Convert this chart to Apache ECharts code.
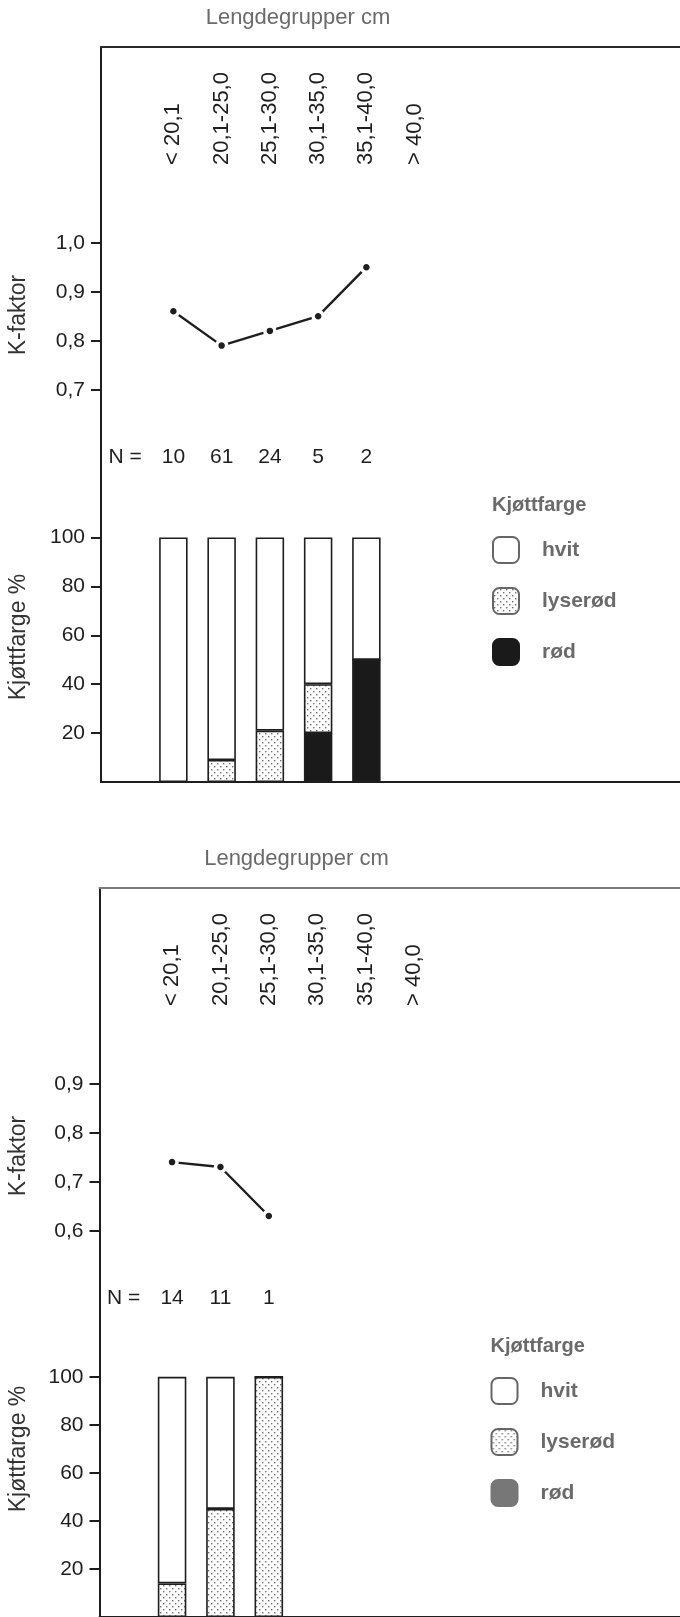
<!DOCTYPE html>
<html>
<head>
<meta charset="utf-8">
<script src="https://cdn.jsdelivr.net/npm/echarts@6/dist/echarts.min.js"></script>
<style>
  html, body { margin: 0; padding: 0; background: #fff; }
  #chart { width: 680px; height: 1617px; }
</style>
</head>
<body>
<div id="chart"></div>
<script>
// Length groups (cm) shared by both samples
const lengthGroups = ['< 20,1', '20,1-25,0', '25,1-30,0', '30,1-35,0', '35,1-40,0', '> 40,0'];

// Sample A (upper panel)
const kFactorA = [0.86, 0.79, 0.82, 0.85, 0.95];
const countA = [10, 61, 24, 5, 2];
const hvitA = [100, 91, 79, 60, 50];
const lyserodA = [0, 9, 21, 20, 0];
const rodA = [0, 0, 0, 20, 50];

// Sample B (lower panel)
const kFactorB = [0.74, 0.73, 0.63];
const countB = [14, 11, 1];
const hvitB = [86, 55, 0];
const lyserodB = [14, 45, 100];
const rodB = [0, 0, 0];

// Axis tick labels
const kTicksA = [0.7, 0.8, 0.9, 1.0];
const kTicksB = [0.6, 0.7, 0.8, 0.9];
const pctTicks = [20, 40, 60, 80, 100];

const FONT = '"Liberation Sans", Arial, Helvetica, sans-serif';
const INK = '#1e1e1e';
const GREY = '#6a6a6a';
const SLOTS = 12;                 // bands along the length axis (one empty band before the groups)
const GRID_W = 587;

const axisCats = Array.from({ length: SLOTS }, (_, i) => lengthGroups[i - 1] ?? '');
const pad = arr => ['-', ...arr];

// Stippled fill used for "lyserød"
function dotPattern() {
  const c = document.createElement('canvas');
  c.width = 6; c.height = 6;
  const g = c.getContext('2d');
  g.fillStyle = '#ffffff';
  g.fillRect(0, 0, 6, 6);
  g.fillStyle = '#707070';
  g.fillRect(1, 1, 1.4, 1.4);
  g.fillRect(4, 4, 1.4, 1.4);
  return c;
}
const stipple = { image: dotPattern(), repeat: 'repeat' };

const panels = [
  {
    top: 47, left: 101, kMin: 0.5831, kMax: 1.3994, kTicks: kTicksA,
    kFactor: kFactorA, counts: countA, hvit: hvitA, lyserod: lyserodA, rod: rodA,
    rodColor: '#1a1a1a', frameTop: '#2a2a2a', pctNameY: 590
  },
  {
    top: 888, left: 99.5, kMin: 0.4831, kMax: 1.2994, kTicks: kTicksB,
    kFactor: kFactorB, counts: countB, hvit: hvitB, lyserod: lyserodB, rod: rodB,
    rodColor: '#777777', frameTop: '#7a7a7a', pctNameY: 561
  }
];

const option = {
  animation: false,
  backgroundColor: '#ffffff',
  textStyle: { fontFamily: FONT },
  grid: [], xAxis: [], yAxis: [], series: [], legend: [], graphic: []
};

panels.forEach((p, n) => {
  const g0 = option.grid.length;
  const x0 = option.xAxis.length;

  // label band, K-factor plot, colour bars
  option.grid.push(
    { left: p.left, top: p.top, width: GRID_W, height: 121 },
    { left: p.left, top: p.top, width: GRID_W, height: 400 },
    { left: p.left, top: p.top + 400, width: GRID_W, height: 335 }
  );

  const frame = { color: INK, width: 2 };

  option.xAxis.push(
    { // rotated group names
      gridIndex: g0, type: 'category', data: axisCats, position: 'bottom',
      axisLine: { show: false, onZero: false }, axisTick: { show: false },
      axisLabel: { inside: true, rotate: 90, interval: 0, margin: 3,
        fontSize: 22, color: INK, fontFamily: FONT }
    },
    { // top frame with group boundaries
      gridIndex: g0 + 1, type: 'category', data: axisCats, position: 'top',
      axisLine: { onZero: false, lineStyle: { color: p.frameTop, width: 2 } },
      axisTick: { inside: true, length: 7, interval: i => i >= 1 && i <= 7,
        lineStyle: { color: p.frameTop, width: 2 } },
      axisLabel: { show: false }
    },
    { // sample sizes
      gridIndex: g0 + 1, type: 'category', position: 'bottom',
      data: axisCats.map((_, i) => i === 0 ? 'N =' : (p.counts[i - 1] !== undefined ? String(p.counts[i - 1]) : '')),
      axisLine: { show: false, onZero: false }, axisTick: { show: false },
      axisLabel: { interval: 0, margin: 0, fontSize: 21, color: INK, fontFamily: FONT }
    },
    { // bar baseline
      gridIndex: g0 + 2, type: 'category', data: axisCats, position: 'bottom',
      axisLine: { onZero: false, lineStyle: frame }, axisTick: { show: false },
      axisLabel: { show: false }
    }
  );

  option.yAxis.push(
    { gridIndex: g0, type: 'value', show: false },
    {
      gridIndex: g0 + 1, type: 'value', min: p.kMin, max: p.kMax,
      axisLine: { show: true, lineStyle: frame },
      splitLine: { show: false },
      axisTick: { show: true, length: 10, customValues: p.kTicks, lineStyle: frame },
      axisLabel: { customValues: p.kTicks, margin: 16, fontSize: 21, color: INK, fontFamily: FONT,
        formatter: v => v.toFixed(1).replace('.', ',') }
    },
    {
      gridIndex: g0 + 2, type: 'value', min: 0, max: 137,
      axisLine: { show: true, lineStyle: frame },
      splitLine: { show: false },
      axisTick: { show: true, length: 10, customValues: pctTicks, lineStyle: frame },
      axisLabel: { customValues: pctTicks, margin: 16, fontSize: 21, color: INK, fontFamily: FONT }
    }
  );

  option.series.push({
    type: 'line', xAxisIndex: x0 + 1, yAxisIndex: g0 + 1,
    data: pad(p.kFactor), connectNulls: false,
    symbol: 'circle', symbolSize: 10, showSymbol: true, silent: true,
    lineStyle: { color: INK, width: 2.4 },
    itemStyle: { color: INK, borderColor: '#ffffff', borderWidth: 3.5 },
    z: 5
  });

  const barBase = {
    type: 'bar', xAxisIndex: x0 + 3, yAxisIndex: g0 + 2, stack: 'colour' + n,
    barWidth: '59%', silent: true
  };
  option.series.push(
    Object.assign({}, barBase, { name: 'rød', data: pad(p.rod),
      itemStyle: { color: p.rodColor, borderColor: INK, borderWidth: 1.6 } }),
    Object.assign({}, barBase, { name: 'lyserød', data: pad(p.lyserod),
      itemStyle: { color: stipple, borderColor: INK, borderWidth: 1.6 } }),
    Object.assign({}, barBase, { name: 'hvit', data: pad(p.hvit),
      itemStyle: { color: '#ffffff', borderColor: INK, borderWidth: 1.6 } })
  );

  option.legend.push({
    orient: 'vertical', left: p.left + 391, top: p.top + 489, padding: 0,
    itemWidth: 26, itemHeight: 26, itemGap: 23, icon: 'roundRect',
    selectedMode: false,
    itemStyle: { borderColor: '#666666', borderWidth: 2 },
    textStyle: { fontSize: 21, fontWeight: 'bold', color: GREY, fontFamily: FONT, padding: [0, 0, 0, 18] },
    data: [
      { name: 'hvit' },
      { name: 'lyserød' },
      { name: 'rød', itemStyle: { color: p.rodColor, borderColor: p.rodColor } }
    ]
  });

  option.graphic.push(
    { type: 'text', x: p.left + 197, y: p.top - 29,
      style: { text: 'Lengdegrupper cm', align: 'center', verticalAlign: 'middle',
        font: '22px ' + FONT, fill: GREY } },
    { type: 'text', x: 19, y: p.top + 268, rotation: Math.PI / 2,
      style: { text: 'K-faktor', align: 'center', verticalAlign: 'middle',
        font: '23px ' + FONT, fill: '#333' } },
    { type: 'text', x: 19, y: p.top + p.pctNameY, rotation: Math.PI / 2,
      style: { text: 'Kjøttfarge %', align: 'center', verticalAlign: 'middle',
        font: '23px ' + FONT, fill: '#333' } },
    { type: 'text', x: p.left + 391, y: p.top + 458,
      style: { text: 'Kjøttfarge', align: 'left', verticalAlign: 'middle',
        font: 'bold 20px ' + FONT, fill: GREY } }
  );
});

const chart = echarts.init(document.getElementById('chart'), null, { renderer: 'canvas' });
chart.setOption(option);
</script>
</body>
</html>
